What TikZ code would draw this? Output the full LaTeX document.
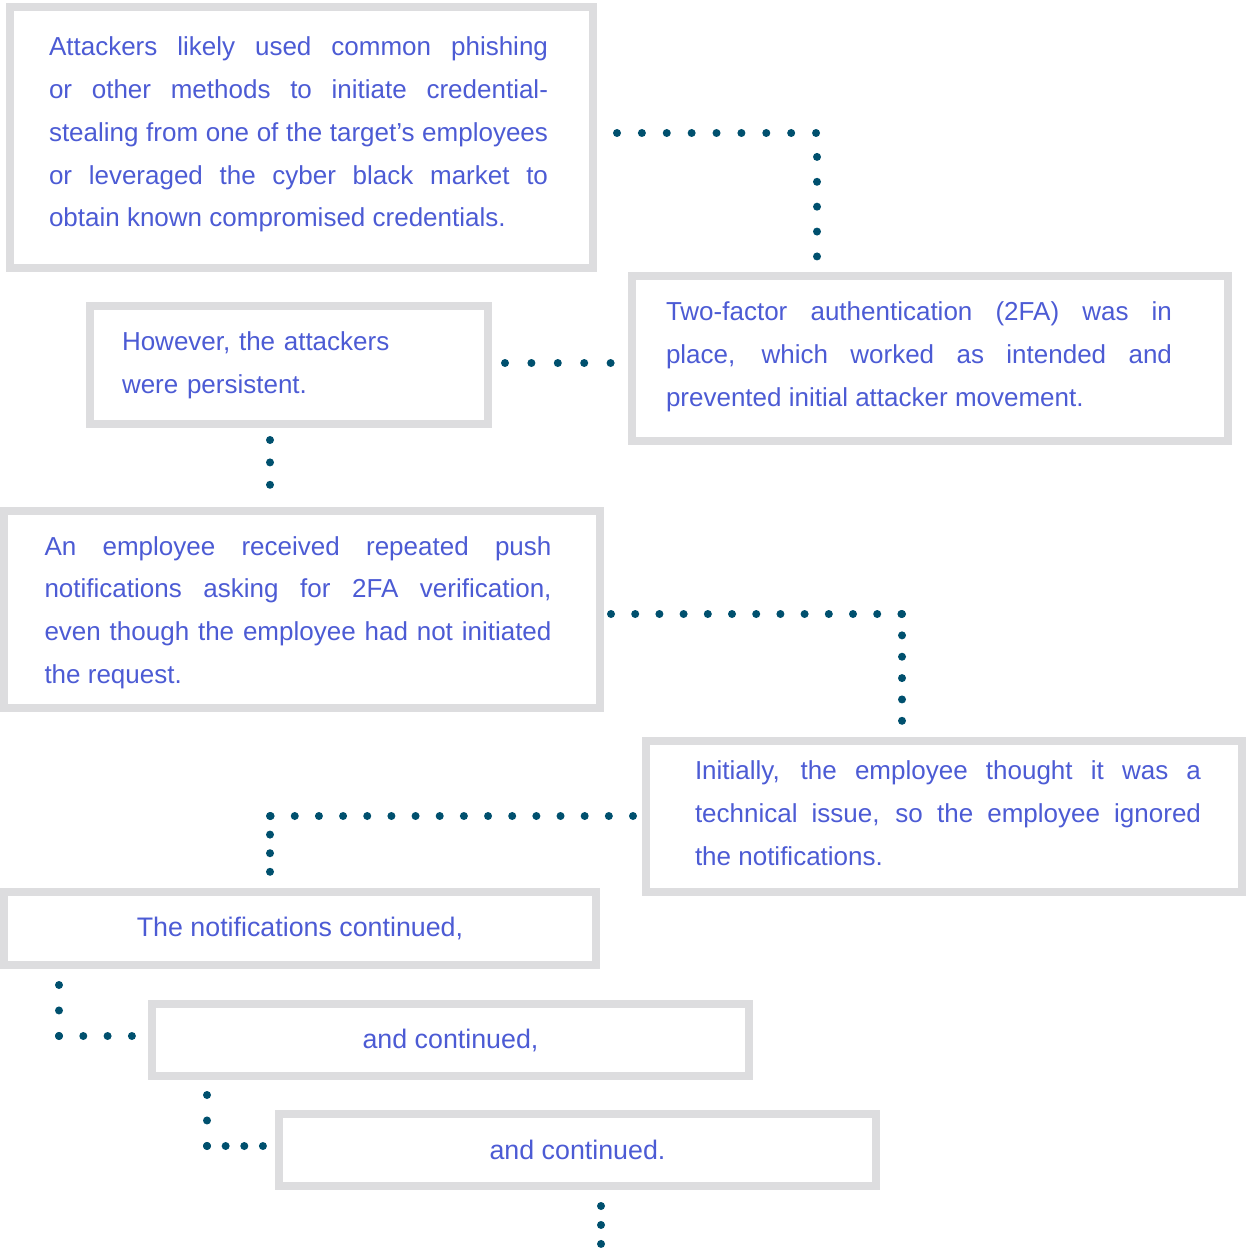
\documentclass[tikz,border=0pt]{standalone}
\usepackage{fontspec}
\setmainfont{Liberation Sans}
\definecolor{txtblue}{RGB}{76,91,212}
\definecolor{dotteal}{RGB}{0,80,110}
\definecolor{boxgray}{RGB}{221,221,223}
\begin{document}
\begin{tikzpicture}[x=0.5pt,y=-0.5pt,
    box/.style={draw=boxgray,line width=4pt,inner sep=0pt,outer sep=2pt,
      text=txtblue,font=\fontsize{13}{21.4}\selectfont},
    para/.style={box,text width=#1,align=justify},
    line/.style={box,font=\fontsize{13.4}{16}\selectfont},
    dotline/.style={draw=dotteal,line width=4pt,line cap=round,dash pattern=on 0pt off #1}]
  \useasboundingbox (0,0) rectangle (1246,1251);
  \node[para=252.5pt,minimum width=291.5pt,minimum height=130.5pt] (b1) at (301.5,137.5)
    {\rightskip3pt Attackers likely used common phishing\linebreak or other methods to initiate credential-\linebreak stealing from one of the target’s employees\linebreak or leveraged the cyber black market to\linebreak obtain known compromised credentials.\par\vspace{3pt}};
  \node[para=264pt,minimum width=298pt,minimum height=82.5pt] (b2) at (930,358.5)
    {\rightskip11pt Two-factor authentication (2FA) was in\linebreak place, which worked as intended and\linebreak prevented initial attacker movement.\par\vspace{2pt}};
  \node[box,text width=167pt,align=left,minimum width=199pt,minimum height=59pt] (b3) at (289,365)
    {However, the attackers\\were persistent.};
  \node[para=257.5pt,minimum width=298pt,minimum height=98.5pt] (b4) at (302,609.5)
    {\rightskip4pt An employee received repeated push\linebreak notifications asking for 2FA verification,\linebreak even though the employee had not initiated\linebreak the request.\par\vspace{-3pt}};
  \node[para=257pt,minimum width=298pt,minimum height=75.5pt] (b5) at (944,816.5)
    {\leftskip4pt Initially, the employee thought it was a\linebreak technical issue, so the employee ignored\linebreak the notifications.\par\vspace{3pt}};
  \node[line,minimum width=296pt,minimum height=36.5pt] (b6) at (300,928.5) {The notifications continued,};
  \node[line,minimum width=298.5pt,minimum height=36pt] (b7) at (450.5,1040) {and continued,};
  \node[line,minimum width=298.5pt,minimum height=36pt] (b8) at (577.5,1150) {and continued.};

  \draw[dotline=12.44pt] ([xshift=10pt,yshift=2.25pt]b1.east) -| ([xshift=94.5pt,yshift=7.5pt]b2.north west);
  \draw[dotline=13.2pt] ([xshift=6.5pt,yshift=1pt]b3.east) coordinate (c2) -- ([xshift=-8.5pt]c2 -| b2.west);
  \draw[dotline=11.2pt] ([xshift=-9.5pt,yshift=-6pt]b3.south) coordinate (c3) -- ([yshift=11pt]c3 |- b4.north);
  \draw[dotline=12.1pt] ([xshift=3.5pt,yshift=-2.25pt]b4.east) coordinate (c4) -- ([xshift=130pt]c4 -| b5.north west) coordinate (k4);
  \draw[dotline=10.68pt] (k4) -- ([yshift=8pt]k4 |- b5.north);
  \draw[dotline=12.08pt] ([xshift=-4.5pt,yshift=0.25pt]b5.west) coordinate (c5) -- ([xshift=135pt]c5 -| b6.north west) coordinate (k5);
  \draw[dotline=9.3pt] (k5) -- ([yshift=8pt]k5 |- b6.north);
  \draw[dotline=12.73pt] ([xshift=29.5pt,yshift=-8pt]b6.south west) coordinate (c6) -- ([yshift=2pt]c6 |- b7.west) coordinate (k6);
  \draw[dotline=12.15pt] (k6) -- ([xshift=-8pt]k6 -| b7.west);
  \draw[dotline=12.73pt] ([xshift=29.5pt,yshift=-7.5pt]b7.south west) coordinate (c7) -- ([yshift=2pt]c7 |- b8.west) coordinate (k7);
  \draw[dotline=9.32pt] (k7) -- ([xshift=-6pt]k7 -| b8.west);
  \coordinate (c8) at ([xshift=163pt,yshift=-8pt]b8.south west);
  \coordinate (tail) at ([yshift=-19pt]c8);
  \draw[dotline=9.48pt] (c8) -- (tail);
\end{tikzpicture}
\end{document}
